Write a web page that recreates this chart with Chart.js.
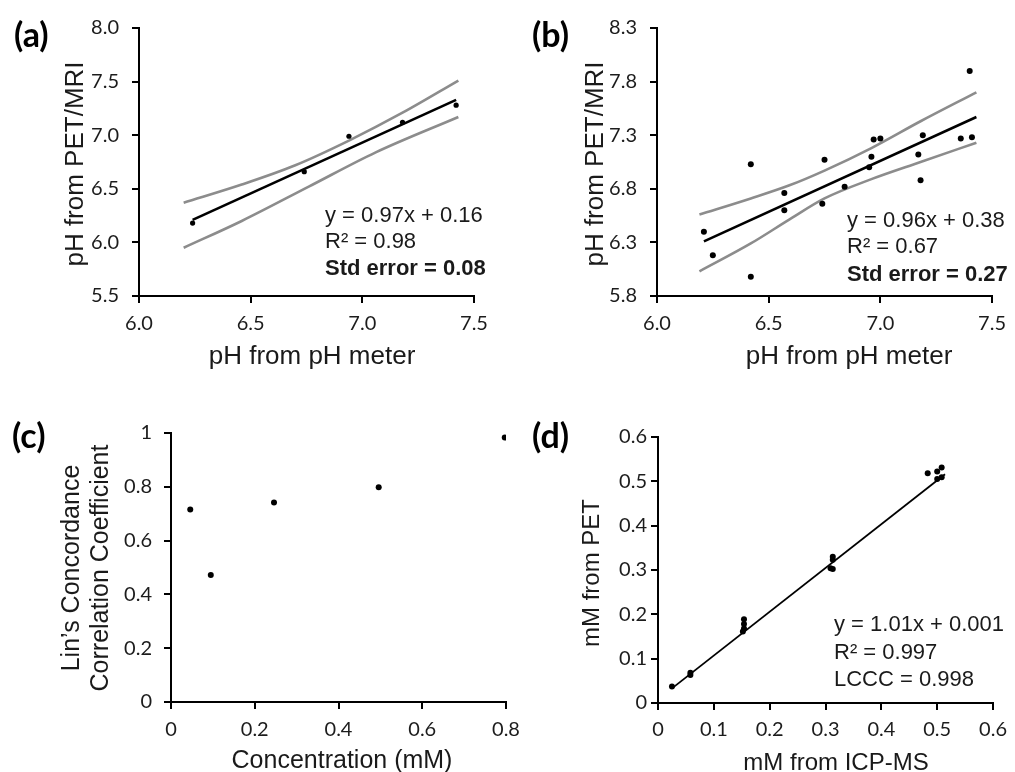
<!DOCTYPE html>
<html>
<head>
<meta charset="utf-8">
<title>PET/MRI pH and concentration agreement</title>
<script src="https://cdn.jsdelivr.net/npm/chart.js@4.4.1/dist/chart.umd.min.js"></script>
<style>
  html, body { margin: 0; padding: 0; background: #fff; }
  #page { position: relative; width: 1015px; height: 772px; overflow: hidden; }
  canvas { position: absolute; }
</style>
</head>
<body>
<div id="page">
  <canvas id="chartA" width="507" height="386" style="left:0;top:0"></canvas>
  <canvas id="chartB" width="508" height="386" style="left:507px;top:0"></canvas>
  <canvas id="chartC" width="530" height="386" style="left:0;top:386px"></canvas>
  <canvas id="chartD" width="508" height="386" style="left:507px;top:386px"></canvas>
</div>
<script>
// ---- panel (a): pH, PET/MRI vs pH meter ----
const aMeter  = [6.24, 6.74, 6.94, 7.18, 7.42];
const aPetMri = [6.18, 6.66, 6.99, 7.12, 7.28];
const aFitX   = [6.24, 7.42];
const aFitY   = [6.21, 7.33];
const aUpperX = [6.20, 6.46, 6.70, 6.94, 7.18, 7.43];
const aUpperY = [6.37, 6.54, 6.72, 6.95, 7.21, 7.51];
const aLowerX = [6.20, 6.46, 6.76, 7.06, 7.43];
const aLowerY = [5.95, 6.20, 6.52, 6.84, 7.17];
const aXTicks = [6.0, 6.5, 7.0, 7.5];
const aYTicks = [5.5, 6.0, 6.5, 7.0, 7.5, 8.0];

// ---- panel (b) ----
const bMeter  = [6.21, 6.25, 6.42, 6.42, 6.57, 6.57, 6.74, 6.75, 6.84, 6.95, 6.96, 6.97, 7.00, 7.17, 7.18, 7.19, 7.36, 7.41, 7.40];
const bPetMri = [6.40, 6.18, 7.03, 5.98, 6.76, 6.60, 6.66, 7.07, 6.82, 7.00, 7.10, 7.26, 7.27, 7.12, 6.88, 7.30, 7.27, 7.28, 7.90];
const bFitX   = [6.21, 7.43];
const bFitY   = [6.31, 7.47];
const bUpperX = [6.19, 6.42, 6.59, 6.75, 6.96, 7.18, 7.43];
const bUpperY = [6.56, 6.71, 6.83, 6.97, 7.18, 7.43, 7.70];
const bLowerX = [6.19, 6.42, 6.59, 6.75, 6.96, 7.18, 7.43];
const bLowerY = [6.03, 6.29, 6.51, 6.71, 6.89, 7.05, 7.23];
const bXTicks = [6.0, 6.5, 7.0, 7.5];
const bYTicks = [5.8, 6.3, 6.8, 7.3, 7.8, 8.3];

// ---- panel (c): LCCC by concentration ----
const cConc   = [0.046, 0.095, 0.246, 0.496, 0.797];
const cLccc   = [0.716, 0.472, 0.742, 0.798, 0.983];
const cXTicks = [0, 0.2, 0.4, 0.6, 0.8];
const cYTicks = [0, 0.2, 0.4, 0.6, 0.8, 1];

// ---- panel (d): mM, PET vs ICP-MS ----
const dIcpms  = [0.025, 0.058, 0.058, 0.154, 0.154, 0.154, 0.152, 0.313, 0.313, 0.309, 0.313, 0.483, 0.500, 0.508, 0.500, 0.508];
const dPet    = [0.037, 0.068, 0.063, 0.189, 0.178, 0.168, 0.161, 0.330, 0.323, 0.304, 0.302, 0.518, 0.522, 0.531, 0.505, 0.509];
const dFitX   = [0.025, 0.514];
const dFitY   = [0.033, 0.516];
const dTicks  = [0, 0.1, 0.2, 0.3, 0.4, 0.5, 0.6];

const TITLE_FONT = "'Liberation Sans', Arial, sans-serif";
const TICK_FONT = "Lato, 'Open Sans', sans-serif";

const pairs = (xs, ys) => xs.map((x, i) => ({ x, y: ys[i] }));
const oneDecimal = v => v.toFixed(1);
const plain = v => String(+v.toFixed(2));

// draws panel letters, axis titles and fit annotations (canvas coords)
const panelText = {
  id: 'panelText',
  afterDraw(chart, args, opts) {
    const ctx = chart.ctx;
    (opts.items || []).forEach(t => {
      ctx.save();
      ctx.font = t.font;
      ctx.fillStyle = t.color || '#1a1a1a';
      ctx.textAlign = t.align || 'left';
      ctx.textBaseline = 'middle';
      ctx.translate(t.x, t.y);
      if (t.rotate) ctx.rotate(-Math.PI / 2);
      ctx.fillText(t.text, 0, 0);
      ctx.restore();
    });
  }
};

function axis(position, ticks, size, pad, fmt) {
  return {
    type: 'linear',
    position,
    min: ticks[0],
    max: ticks[ticks.length - 1],
    afterBuildTicks: s => { s.ticks = ticks.map(v => ({ value: v })); },
    afterFit: s => { if (position === 'left') s.width = size; else s.height = size; },
    grid: { drawOnChartArea: false, drawTicks: true, tickLength: 7, color: '#000', lineWidth: 2 },
    border: { display: true, color: '#000', width: 2 },
    ticks: { autoSkip: false, maxRotation: 0, color: '#1c1c1c', padding: pad,
             font: { family: TICK_FONT, size: 20 }, callback: fmt }
  };
}

const points = (data, r) => ({ data, showLine: false, pointRadius: r, pointBackgroundColor: '#000', pointBorderWidth: 0 });
const line = (data, color, width, smooth) => ({
  data, showLine: true, pointRadius: 0, borderColor: color, borderWidth: width,
  cubicInterpolationMode: smooth ? 'monotone' : 'default'
});

function makeChart(id, datasets, scales, padding, items) {
  return new Chart(document.getElementById(id), {
    type: 'scatter',
    data: { datasets },
    options: {
      responsive: false,
      animation: false,
      layout: { padding },
      scales,
      plugins: { legend: { display: false }, tooltip: { enabled: false }, panelText: { items } }
    },
    plugins: [panelText]
  });
}

const label = (text, x, y) => ({ text, x, y, color: '#000', font: `bold 34px ${TICK_FONT}` });
const title = (text, x, y, size, rotate) => ({ text, x, y, rotate, align: 'center', font: `${size}px ${TITLE_FONT}` });
const note = (text, x, y, bold) => ({ text, x, y, font: `${bold ? 'bold ' : ''}22px ${TITLE_FONT}` });

makeChart('chartA', [
  points(pairs(aMeter, aPetMri), 2.6),
  line(pairs(aFitX, aFitY), '#000', 2.6),
  line(pairs(aUpperX, aUpperY), '#8c8c8c', 2.6, true),
  line(pairs(aLowerX, aLowerY), '#8c8c8c', 2.6, true)
], {
  x: axis('bottom', aXTicks, 90, 9, oneDecimal),
  y: axis('left', aYTicks, 139, 13, oneDecimal)
}, { top: 28, right: 33, left: 0, bottom: 0 }, [
  label('(a)', 14, 36),
  title('pH from PET/MRI', 76, 164, 26, true),
  title('pH from pH meter', 312, 357, 26),
  note('y = 0.97x + 0.16', 325, 216),
  note('R² = 0.98', 325, 242),
  note('Std error = 0.08', 325, 269, true)
]);

makeChart('chartB', [
  points(pairs(bMeter, bPetMri), 3),
  line(pairs(bFitX, bFitY), '#000', 2.6),
  line(pairs(bUpperX, bUpperY), '#8c8c8c', 2.6, true),
  line(pairs(bLowerX, bLowerY), '#8c8c8c', 2.6, true)
], {
  x: axis('bottom', bXTicks, 90, 9, oneDecimal),
  y: axis('left', bYTicks, 150, 13, oneDecimal)
}, { top: 28, right: 22, left: 0, bottom: 0 }, [
  label('(b)', 25, 36),
  title('pH from PET/MRI', 89, 164, 26, true),
  title('pH from pH meter', 342, 357, 26),
  note('y = 0.96x + 0.38', 340, 221),
  note('R² = 0.67', 340, 247),
  note('Std error = 0.27', 340, 275, true)
]);

makeChart('chartC', [
  points(pairs(cConc, cLccc), 3)
], {
  x: axis('bottom', cXTicks, 70, 9, plain),
  y: axis('left', cYTicks, 171, 12, plain)
}, { top: 47, right: 24, left: 0, bottom: 0 }, [
  label('(c)', 12, 51),
  title('Lin’s Concordance', 72, 182, 25, true),
  title('Correlation Coefficient', 101, 182, 25, true),
  title('Concentration (mM)', 342, 375, 25)
]);

makeChart('chartD', [
  points(pairs(dIcpms, dPet), 3),
  line(pairs(dFitX, dFitY), '#000', 1.8)
], {
  x: axis('bottom', dTicks, 69, 8, plain),
  y: axis('left', dTicks, 151, 4, plain)
}, { top: 51, right: 17, left: 0, bottom: 0 }, [
  label('(d)', 25, 51),
  title('mM from PET', 85, 187, 24, true),
  title('mM from ICP-MS', 329, 377, 24),
  note('y = 1.01x + 0.001', 327, 239),
  note('R² = 0.997', 327, 267),
  note('LCCC = 0.998', 327, 294)
]);
</script>
</body>
</html>
